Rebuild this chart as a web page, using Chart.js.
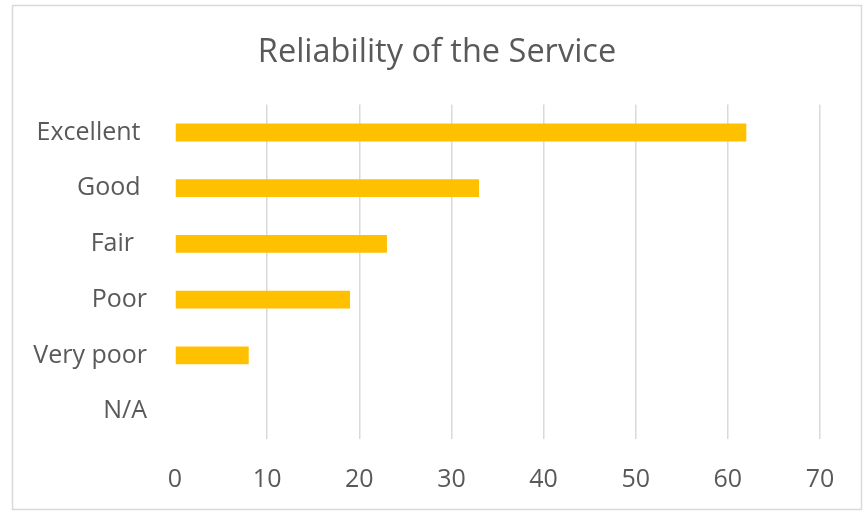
<!DOCTYPE html>
<html>
<head>
<meta charset="utf-8">
<script src="https://cdn.jsdelivr.net/npm/chart.js@4"></script>
<style>
  html, body { margin: 0; padding: 0; background: #fff; }
  #wrap { position: relative; width: 864px; height: 511px; }
</style>
</head>
<body>
<div id="wrap"><canvas id="chart" width="864" height="511"></canvas></div>
<script>
// data
const categories = ["Excellent ", "Good ", "Fair  ", "Poor", "Very poor", "N/A"];
const responses = [62, 33, 23, 19, 8, 0];
const xTicks = [0, 10, 20, 30, 40, 50, 60, 70];

const textColor = '#595959';
const gridColor = '#d9d9d9';
const fontFamily = '"Open Sans", "Noto Sans", sans-serif';

// light frame round the whole chart, like the Excel chart border
const framePlugin = {
  id: 'frame',
  beforeDraw(chart) {
    const ctx = chart.ctx;
    ctx.save();
    ctx.fillStyle = '#fff';
    ctx.fillRect(0, 0, chart.width, chart.height);
    ctx.strokeStyle = gridColor;
    ctx.lineWidth = 1.5;
    ctx.strokeRect(12.5, 5.5, 849, 504);
    ctx.restore();
  }
};

new Chart(document.getElementById('chart').getContext('2d'), {
  type: 'bar',
  data: {
    labels: categories,
    datasets: [{
      label: 'Reliability',
      data: responses,
      backgroundColor: '#FFC000',
      borderWidth: 0,
      barPercentage: 0.32,
      categoryPercentage: 1
    }]
  },
  options: {
    indexAxis: 'y',
    responsive: false,
    animation: false,
    layout: { padding: { top: 5, left: 12, right: 2, bottom: 16 } },
    plugins: {
      legend: { display: false },
      tooltip: { enabled: false },
      title: {
        display: true,
        text: 'Reliability of the Service',
        color: textColor,
        font: { family: fontFamily, size: 32.5, weight: 'normal', lineHeight: 1.2 },
        padding: { top: 28, bottom: 32.6 }
      }
    },
    scales: {
      x: {
        min: xTicks[0],
        max: xTicks[xTicks.length - 1],
        afterBuildTicks(scale) {
          scale.ticks = xTicks.map(v => ({ value: v }));
        },
        afterFit(scale) { scale.height = 56; },
        grid: {
          drawTicks: false,
          color: ctx => (ctx.tick && ctx.tick.value === 0 ? 'rgba(0,0,0,0)' : gridColor),
          lineWidth: 1.5
        },
        border: { display: false },
        ticks: {
          color: textColor,
          padding: 26,
          font: { family: fontFamily, size: 25, lineHeight: 1.2 }
        }
      },
      y: {
        grid: { display: false, drawTicks: false },
        border: { display: false },
        afterFit(scale) { scale.width = 163; },
        ticks: {
          color: textColor,
          padding: 28,
          font: { family: fontFamily, size: 25, lineHeight: 1.2 }
        }
      },
      // empty spacer on the right so the plot ends at 70 while the title stays centred
      yRight: {
        type: 'category',
        position: 'right',
        grid: { display: false, drawTicks: false },
        border: { display: false },
        ticks: { display: false },
        afterFit(scale) { scale.width = 42; }
      }
    }
  },
  plugins: [framePlugin]
});
</script>
</body>
</html>
